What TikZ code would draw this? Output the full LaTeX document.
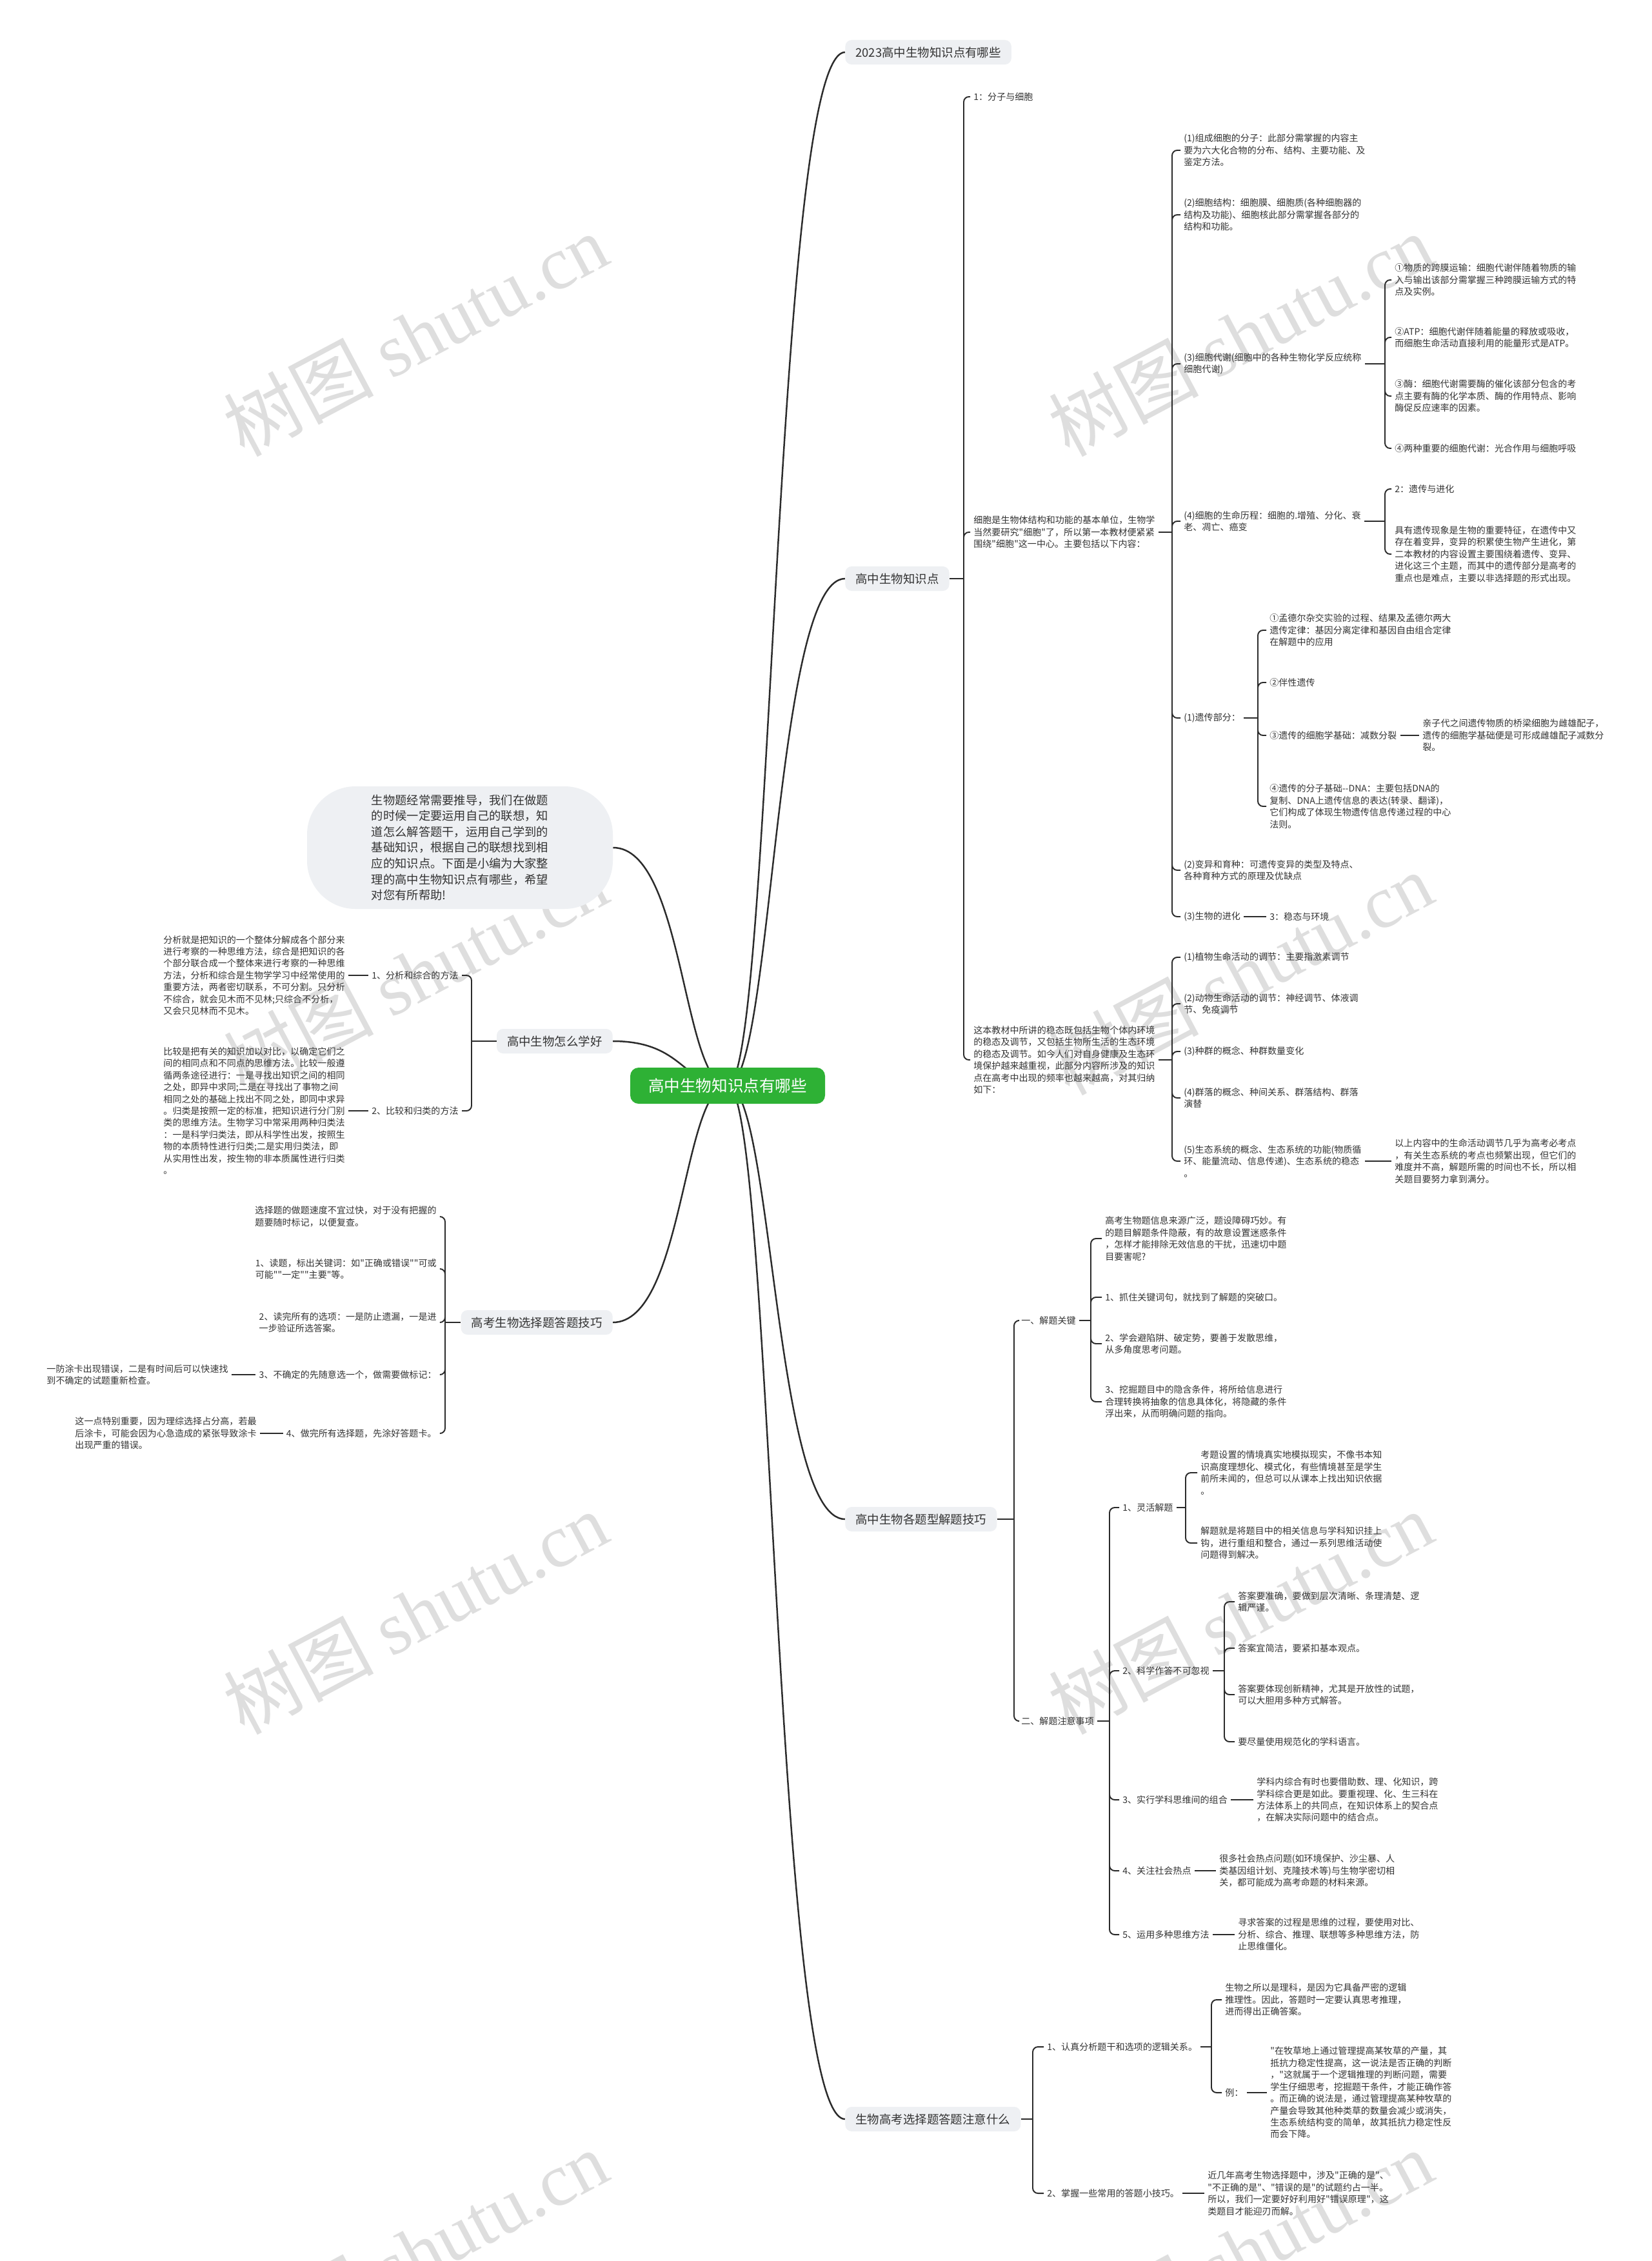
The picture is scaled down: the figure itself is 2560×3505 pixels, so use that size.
\documentclass[tikz,border=0pt]{standalone}
\usepackage{fontspec}
\setmainfont{Noto Sans CJK SC}[Ligatures=TeXOff]
\newfontfamily\wmserif{Liberation Serif}
\usetikzlibrary{calc,backgrounds}

\definecolor{rootgreen}{HTML}{2EB135}
\definecolor{pillgray}{HTML}{EEF0F3}
\definecolor{linegray}{HTML}{2B2B2B}
\definecolor{textgray}{HTML}{333333}
\definecolor{wmgray}{HTML}{DEDEDE}

\begin{document}
\begin{tikzpicture}[
  x=0.2mm, y=-0.2mm,
  txt/.style={inner sep=1mm, align=left, text=textgray,
              font=\fontsize{8pt}{10.5pt}\selectfont},
  topic/.style={fill=pillgray, rounded corners=2mm, inner xsep=3.2mm,
              inner ysep=0pt, minimum height=7.6mm, text=textgray,
              font=\fontsize{10.5pt}{12pt}\selectfont},
  rootbox/.style={fill=rootgreen, rounded corners=2.6mm, minimum width=60.4mm,
              minimum height=11.2mm, text=white,
              font=\fontsize{14pt}{16pt}\selectfont},
  bubble/.style={fill=pillgray, rounded corners=15mm, minimum width=94.8mm,
              minimum height=38mm, align=left, text=textgray,
              font=\fontsize{10.4pt}{14pt}\selectfont},
  conn/.style={draw=linegray, line width=1.1pt},
  tree/.style={conn, rounded corners=1.6mm},
  trunk/.style={draw=linegray, line width=1.4pt},
  wmark/.style={text=wmgray, rotate=28, font=\fontsize{66pt}{70pt}\selectfont},
]
\useasboundingbox (0,0) rectangle (2560,3505);

% root and main topics
\node[rootbox] (root) at (1128,1683) {高中生物知识点有哪些};
\node[topic, anchor=west] (b1) at (1310,81) {2023高中生物知识点有哪些};
\node[topic, anchor=west] (b2) at (1310,897) {高中生物知识点};
\node[topic, anchor=west] (b3) at (1310,2355) {高中生物各题型解题技巧};
\node[topic, anchor=west] (b4) at (1310,3285) {生物高考选择题答题注意什么};
\node[bubble] (intro) at (713,1314) {生物题经常需要推导，我们在做题\\的时候一定要运用自己的联想，知\\道怎么解答题干，运用自己学到的\\基础知识，根据自己的联想找到相\\应的知识点。下面是小编为大家整\\理的高中生物知识点有哪些，希望\\对您有所帮助!};
\node[topic, anchor=east] (l1) at (950,1614) {高中生物怎么学好};
\node[topic, anchor=east] (l2) at (950,2050) {高考生物选择题答题技巧};

% 高中生物知识点
\node[txt, anchor=west] (k1) at (1504,150) {1：分子与细胞};
\node[txt, anchor=west] (k2) at (1504,825) {细胞是生物体结构和功能的基本单位，生物学\\当然要研究"细胞"了，所以第一本教材便紧紧\\围绕"细胞"这一中心。主要包括以下内容：};
\node[txt, anchor=west] (k3) at (1504,1643) {这本教材中所讲的稳态既包括生物个体内环境\\的稳态及调节，又包括生物所生活的生态环境\\的稳态及调节。如今人们对自身健康及生态环\\境保护越来越重视，此部分内容所涉及的知识\\点在高考中出现的频率也越来越高，对其归纳\\如下：};

\node[txt, anchor=west] (c1) at (1830,233) {(1)组成细胞的分子：此部分需掌握的内容主\\要为六大化合物的分布、结构、主要功能、及\\鉴定方法。};
\node[txt, anchor=west] (c2) at (1830,333) {(2)细胞结构：细胞膜、细胞质(各种细胞器的\\结构及功能)、细胞核此部分需掌握各部分的\\结构和功能。};
\node[txt, anchor=west] (c3) at (1830,564) {(3)细胞代谢(细胞中的各种生物化学反应统称\\细胞代谢)};
\node[txt, anchor=west] (c4) at (1830,808) {(4)细胞的生命历程：细胞的.增殖、分化、衰\\老、凋亡、癌变};
\node[txt, anchor=west] (c5) at (1830,1113) {(1)遗传部分：};
\node[txt, anchor=west] (c6) at (1830,1349) {(2)变异和育种：可遗传变异的类型及特点、\\各种育种方式的原理及优缺点};
\node[txt, anchor=west] (c7) at (1830,1421) {(3)生物的进化};
\node[txt, anchor=west] (c7x) at (1963,1421) {3：稳态与环境};

\node[txt, anchor=west] (m1) at (2157,434) {①物质的跨膜运输：细胞代谢伴随着物质的输\\入与输出该部分需掌握三种跨膜运输方式的特\\点及实例。};
\node[txt, anchor=west] (m2) at (2157,523) {②ATP：细胞代谢伴随着能量的释放或吸收，\\而细胞生命活动直接利用的能量形式是ATP。};
\node[txt, anchor=west] (m3) at (2157,614) {③酶：细胞代谢需要酶的催化该部分包含的考\\点主要有酶的化学本质、酶的作用特点、影响\\酶促反应速率的因素。};
\node[txt, anchor=west] (m4) at (2157,695) {④两种重要的细胞代谢：光合作用与细胞呼吸};

\node[txt, anchor=west] (g1) at (2157,758) {2：遗传与进化};
\node[txt, anchor=west] (g2) at (2157,859) {具有遗传现象是生物的重要特征，在遗传中又\\存在着变异，变异的积累使生物产生进化，第\\二本教材的内容设置主要围绕着遗传、变异、\\进化这三个主题，而其中的遗传部分是高考的\\重点也是难点，主要以非选择题的形式出现。};

\node[txt, anchor=west] (h1) at (1963,977) {①孟德尔杂交实验的过程、结果及孟德尔两大\\遗传定律：基因分离定律和基因自由组合定律\\在解题中的应用};
\node[txt, anchor=west] (h2) at (1963,1058) {②伴性遗传};
\node[txt, anchor=west] (h3) at (1963,1140) {③遗传的细胞学基础：减数分裂};
\node[txt, anchor=west] (h3x) at (2200,1140) {亲子代之间遗传物质的桥梁细胞为雌雄配子，\\遗传的细胞学基础便是可形成雌雄配子减数分\\裂。};
\node[txt, anchor=west] (h4) at (1963,1250) {④遗传的分子基础--DNA：主要包括DNA的\\复制、DNA上遗传信息的表达(转录、翻译)，\\它们构成了体现生物遗传信息传递过程的中心\\法则。};

\node[txt, anchor=west] (s1) at (1830,1484) {(1)植物生命活动的调节：主要指激素调节};
\node[txt, anchor=west] (s2) at (1830,1556) {(2)动物生命活动的调节：神经调节、体液调\\节、免疫调节};
\node[txt, anchor=west] (s3) at (1830,1630) {(3)种群的概念、种群数量变化};
\node[txt, anchor=west] (s4) at (1830,1702) {(4)群落的概念、种间关系、群落结构、群落\\演替};
\node[txt, anchor=west] (s5) at (1830,1800) {(5)生态系统的概念、生态系统的功能(物质循\\环、能量流动、信息传递)、生态系统的稳态\\。};
\node[txt, anchor=west] (s5x) at (2157,1800) {以上内容中的生命活动调节几乎为高考必考点\\，有关生态系统的考点也频繁出现，但它们的\\难度并不高，解题所需的时间也不长，所以相\\关题目要努力拿到满分。};

% 高中生物怎么学好
\node[txt, anchor=east] (p1) at (716,1512) {1、分析和综合的方法};
\node[txt, anchor=east] (p2) at (716,1722) {2、比较和归类的方法};
\node[txt, anchor=east] (p1x) at (540,1512) {分析就是把知识的一个整体分解成各个部分来\\进行考察的一种思维方法，综合是把知识的各\\个部分联合成一个整体来进行考察的一种思维\\方法，分析和综合是生物学学习中经常使用的\\重要方法，两者密切联系，不可分割。只分析\\不综合，就会见木而不见林;只综合不分析，\\又会只见林而不见木。};
\node[txt, anchor=east] (p2x) at (540,1722) {比较是把有关的知识加以对比，以确定它们之\\间的相同点和不同点的思维方法。比较一般遵\\循两条途径进行：一是寻找出知识之间的相同\\之处，即异中求同;二是在寻找出了事物之间\\相同之处的基础上找出不同之处，即同中求异\\。归类是按照一定的标准，把知识进行分门别\\类的思维方法。生物学习中常采用两种归类法\\：一是科学归类法，即从科学性出发，按照生\\物的本质特性进行归类;二是实用归类法，即\\从实用性出发，按生物的非本质属性进行归类\\。};

% 高考生物选择题答题技巧
\node[txt, anchor=east] (q1) at (682,1886) {选择题的做题速度不宜过快，对于没有把握的\\题要随时标记，以便复查。};
\node[txt, anchor=east] (q2) at (682,1967) {1、读题，标出关键词：如"正确或错误""可或\\可能""一定""主要"等。};
\node[txt, anchor=east] (q3) at (682,2050) {2、读完所有的选项：一是防止遗漏，一是进\\一步验证所选答案。};
\node[txt, anchor=east] (q4) at (682,2131) {3、不确定的先随意选一个，做需要做标记：};
\node[txt, anchor=east] (q5) at (682,2222) {4、做完所有选择题，先涂好答题卡。};
\node[txt, anchor=east] (q4x) at (359,2131) {一防涂卡出现错误，二是有时间后可以快速找\\到不确定的试题重新检查。};
\node[txt, anchor=east] (q5x) at (403,2222) {这一点特别重要，因为理综选择占分高，若最\\后涂卡，可能会因为心急造成的紧张导致涂卡\\出现严重的错误。};

% 高中生物各题型解题技巧
\node[txt, anchor=west] (r1) at (1578,2047) {一、解题关键};
\node[txt, anchor=west] (r2) at (1578,2668) {二、解题注意事项};
\node[txt, anchor=west] (r1a) at (1708,1920) {高考生物题信息来源广泛，题设障碍巧妙。有\\的题目解题条件隐蔽，有的故意设置迷惑条件\\，怎样才能排除无效信息的干扰，迅速切中题\\目要害呢?};
\node[txt, anchor=west] (r1b) at (1708,2011) {1、抓住关键词句，就找到了解题的突破口。};
\node[txt, anchor=west] (r1c) at (1708,2083) {2、学会避陷阱、破定势，要善于发散思维，\\从多角度思考问题。};
\node[txt, anchor=west] (r1d) at (1708,2173) {3、挖掘题目中的隐含条件，将所给信息进行\\合理转换将抽象的信息具体化，将隐藏的条件\\浮出来，从而明确问题的指向。};

\node[txt, anchor=west] (t1) at (1735,2337) {1、灵活解题};
\node[txt, anchor=west] (t2) at (1735,2590) {2、科学作答不可忽视};
\node[txt, anchor=west] (t3) at (1735,2790) {3、实行学科思维间的组合};
\node[txt, anchor=west] (t4) at (1735,2900) {4、关注社会热点};
\node[txt, anchor=west] (t5) at (1735,2999) {5、运用多种思维方法};
\node[txt, anchor=west] (t1a) at (1856,2283) {考题设置的情境真实地模拟现实，不像书本知\\识高度理想化、模式化，有些情境甚至是学生\\前所未闻的，但总可以从课本上找出知识依据\\。};
\node[txt, anchor=west] (t1b) at (1856,2392) {解题就是将题目中的相关信息与学科知识挂上\\钩，进行重组和整合，通过一系列思维活动使\\问题得到解决。};
\node[txt, anchor=west] (t2a) at (1914,2483) {答案要准确，要做到层次清晰、条理清楚、逻\\辑严谨。};
\node[txt, anchor=west] (t2b) at (1914,2555) {答案宜简洁，要紧扣基本观点。};
\node[txt, anchor=west] (t2c) at (1914,2627) {答案要体现创新精神，尤其是开放性的试题，\\可以大胆用多种方式解答。};
\node[txt, anchor=west] (t2d) at (1914,2700) {要尽量使用规范化的学科语言。};
\node[txt, anchor=west] (t3x) at (1943,2790) {学科内综合有时也要借助数、理、化知识，跨\\学科综合更是如此。要重视理、化、生三科在\\方法体系上的共同点，在知识体系上的契合点\\，在解决实际问题中的结合点。};
\node[txt, anchor=west] (t4x) at (1885,2900) {很多社会热点问题(如环境保护、沙尘暴、人\\类基因组计划、克隆技术等)与生物学密切相\\关，都可能成为高考命题的材料来源。};
\node[txt, anchor=west] (t5x) at (1914,2999) {寻求答案的过程是思维的过程，要使用对比、\\分析、综合、推理、联想等多种思维方法，防\\止思维僵化。};

% 生物高考选择题答题注意什么
\node[txt, anchor=west] (u1) at (1618,3173) {1、认真分析题干和选项的逻辑关系。};
\node[txt, anchor=west] (u2) at (1618,3400) {2、掌握一些常用的答题小技巧。};
\node[txt, anchor=west] (u1a) at (1894,3100) {生物之所以是理科，是因为它具备严密的逻辑\\推理性。因此，答题时一定要认真思考推理，\\进而得出正确答案。};
\node[txt, anchor=west] (u1b) at (1894,3244) {例：};
\node[txt, anchor=west] (u1bx) at (1964,3244) {"在牧草地上通过管理提高某牧草的产量，其\\抵抗力稳定性提高，这一说法是否正确的判断\\，"这就属于一个逻辑推理的判断问题，需要\\学生仔细思考，挖掘题干条件，才能正确作答\\。而正确的说法是，通过管理提高某种牧草的\\产量会导致其他种类草的数量会减少或消失，\\生态系统结构变的简单，故其抵抗力稳定性反\\而会下降。};
\node[txt, anchor=west] (u2x) at (1867,3400) {近几年高考生物选择题中，涉及"正确的是"、\\"不正确的是"、"错误的是"的试题约占一半。\\所以，我们一定要好好利用好"错误原理"，这\\类题目才能迎刃而解。};

% junctions
\coordinate (b2J) at (1494,897);
\coordinate (k2J) at (1817,825);
\coordinate (k3J) at (1817,1643);
\coordinate (c3J) at (2147,564);
\coordinate (c4J) at (2147,808);
\coordinate (c5J) at (1950,1113);
\coordinate (l1J) at (731,1614);
\coordinate (l2J) at (690,2050);
\coordinate (b3J) at (1572,2355);
\coordinate (r1J) at (1691,2047);
\coordinate (r2J) at (1720,2668);
\coordinate (t1J) at (1838,2337);
\coordinate (t2J) at (1898,2590);
\coordinate (b4J) at (1601,3285);
\coordinate (u1J) at (1878,3173);

% tree connectors
\draw[conn] (b2.east) -- (b2J);
\draw[tree] (b2J) |- (k1.west) (b2J) |- (k2.west) (b2J) |- (k3.west);
\draw[conn] (k2.east) -- (k2J);
\draw[tree] (k2J) |- (c1.west) (k2J) |- (c2.west) (k2J) |- (c3.west) (k2J) |- (c4.west)
  (k2J) |- (c5.west) (k2J) |- (c6.west) (k2J) |- (c7.west);
\draw[conn] (c3.east) -- (c3J);
\draw[tree] (c3J) |- (m1.west) (c3J) |- (m2.west) (c3J) |- (m3.west) (c3J) |- (m4.west);
\draw[conn] (c4.east) -- (c4J);
\draw[tree] (c4J) |- (g1.west) (c4J) |- (g2.west);
\draw[conn] (c5.east) -- (c5J);
\draw[tree] (c5J) |- (h1.west) (c5J) |- (h2.west) (c5J) |- (h3.west) (c5J) |- (h4.west);
\draw[conn] (h3.east) -- (h3x.west);
\draw[conn] (c7.east) -- (c7x.west);
\draw[conn] (k3.east) -- (k3J);
\draw[tree] (k3J) |- (s1.west) (k3J) |- (s2.west) (k3J) |- (s3.west) (k3J) |- (s4.west)
  (k3J) |- (s5.west);
\draw[conn] (s5.east) -- (s5x.west);

\draw[conn] (l1.west) -- (l1J);
\draw[tree] (l1J) |- (p1.east) (l1J) |- (p2.east);
\draw[conn] (p1.west) -- (p1x.east);
\draw[conn] (p2.west) -- (p2x.east);

\draw[conn] (l2.west) -- (l2J);
\draw[tree] (l2J) |- (q1.east) (l2J) |- (q2.east) (l2J) |- (q3.east) (l2J) |- (q4.east)
  (l2J) |- (q5.east);
\draw[conn] (q4.west) -- (q4x.east);
\draw[conn] (q5.west) -- (q5x.east);

\draw[conn] (b3.east) -- (b3J);
\draw[tree] (b3J) |- (r1.west) (b3J) |- (r2.west);
\draw[conn] (r1.east) -- (r1J);
\draw[tree] (r1J) |- (r1a.west) (r1J) |- (r1b.west) (r1J) |- (r1c.west) (r1J) |- (r1d.west);
\draw[conn] (r2.east) -- (r2J);
\draw[tree] (r2J) |- (t1.west) (r2J) |- (t2.west) (r2J) |- (t3.west) (r2J) |- (t4.west)
  (r2J) |- (t5.west);
\draw[conn] (t1.east) -- (t1J);
\draw[tree] (t1J) |- (t1a.west) (t1J) |- (t1b.west);
\draw[conn] (t2.east) -- (t2J);
\draw[tree] (t2J) |- (t2a.west) (t2J) |- (t2b.west) (t2J) |- (t2c.west) (t2J) |- (t2d.west);
\draw[conn] (t3.east) -- (t3x.west);
\draw[conn] (t4.east) -- (t4x.west);
\draw[conn] (t5.east) -- (t5x.west);

\draw[conn] (b4.east) -- (b4J);
\draw[tree] (b4J) |- (u1.west) (b4J) |- (u2.west);
\draw[conn] (u1.east) -- (u1J);
\draw[tree] (u1J) |- (u1a.west) (u1J) |- (u1b.west);
\draw[conn] (u1b.east) -- (u1bx.west);
\draw[conn] (u2.east) -- (u2x.west);

\begin{scope}[on background layer]
\fill[white] (0,0) rectangle (2560,3505);
% watermark
\node[wmark] (wm1) at (644,519) {树图 {\wmserif shutu.cn}};
\node[wmark] (wm2) at (1923,519) {树图 {\wmserif shutu.cn}};
\node[wmark] (wm3) at (644,1509) {树图 {\wmserif shutu.cn}};
\node[wmark] (wm4) at (1923,1509) {树图 {\wmserif shutu.cn}};
\node[wmark] (wm5) at (644,2500) {树图 {\wmserif shutu.cn}};
\node[wmark] (wm6) at (1923,2500) {树图 {\wmserif shutu.cn}};
\node[wmark] (wm7) at (644,3490) {树图 {\wmserif shutu.cn}};
\node[wmark] (wm8) at (1923,3490) {树图 {\wmserif shutu.cn}};
% curves from the root
\draw[trunk] (root.center) .. controls ($(root.center)+(70,0)$) and ($(b1.west)+(-110,0)$) .. (b1.west);
\draw[trunk] (root.center) .. controls ($(root.center)+(70,0)$) and ($(b2.west)+(-110,0)$) .. (b2.west);
\draw[trunk] (root.center) .. controls ($(root.center)+(70,0)$) and ($(b3.west)+(-110,0)$) .. (b3.west);
\draw[trunk] (root.center) .. controls ($(root.center)+(70,0)$) and ($(b4.west)+(-110,0)$) .. (b4.west);
\draw[trunk] (root.center) .. controls ($(root.center)+(-70,0)$) and ($(intro.east)+(110,0)$) .. (intro.east);
\draw[trunk] (root.center) .. controls ($(root.center)+(-70,0)$) and ($(l1.east)+(110,0)$) .. (l1.east);
\draw[trunk] (root.center) .. controls ($(root.center)+(-70,0)$) and ($(l2.east)+(110,0)$) .. (l2.east);
\end{scope}

\end{tikzpicture}
\end{document}
